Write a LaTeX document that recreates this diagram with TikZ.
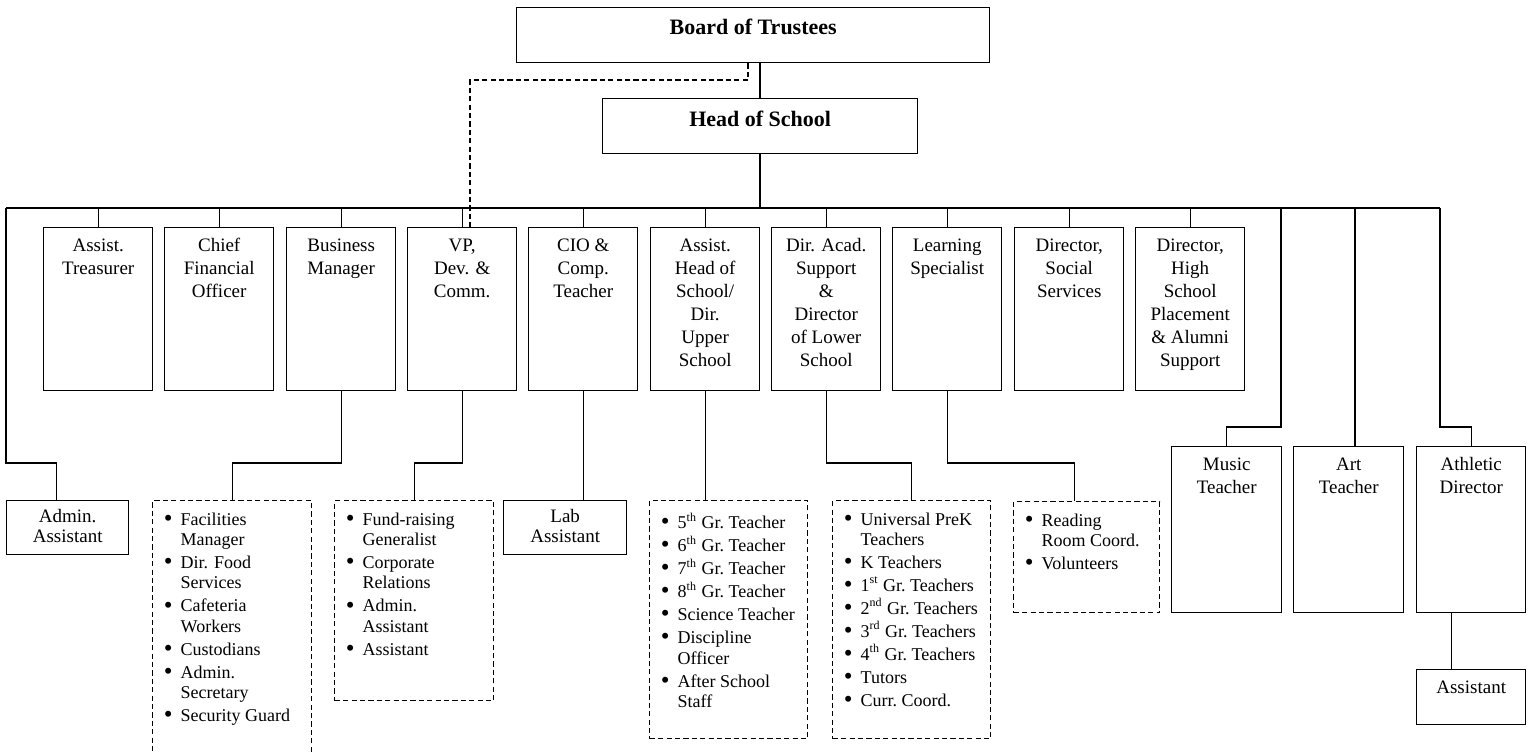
\documentclass[tikz,border=0pt]{standalone}
\usepackage{fontspec}
\setmainfont{Liberation Serif}
\usepackage{enumitem}
\setlist[itemize]{label=\raisebox{-0.6pt}{\fontsize{12.5}{12.5}\selectfont\textbullet}, leftmargin=14pt, labelsep=4pt, topsep=0pt, partopsep=0pt, itemsep=1.3pt, parsep=0pt}

\newcommand{\unitfont}{\fontsize{9.5}{11.5}\selectfont}
\newcommand{\smallunitfont}{\fontsize{9.5}{10}\selectfont}
\newcommand{\listfont}{\fontsize{9}{10.2}\selectfont}
% box text, set from the top: [gap]{width}{height}{text}
\newcommand{\lbl}[4][4pt]{\parbox[t][#3][t]{#2}{\centering\vspace*{#1}\strut#4}}
% bullet list, set from the top: {width}{height}{items}
\newcommand{\lst}[3]{\parbox[t][#2][t]{#1}{\vspace*{6pt}\begin{itemize}#3\end{itemize}}}

\tikzset{
    unit/.style={draw, line width=0.7pt, inner sep=0pt, anchor=north west, font=\unitfont},
    staff/.style={unit, dash pattern=on 2.6pt off 1.6pt, font=\listfont},
    link/.style={line width=0.7pt},
    dlink/.style={link, dash pattern=on 2.6pt off 1.6pt}
}

\begin{document}
\begin{tikzpicture}[x=0.5pt, y=-0.5pt]
    % --- SETTINGS (pixels of the sheet) ---
    \def\Bus{208}  % main horizontal line
    \def\Ely{463}  % elbows under the top row
    \def\Ery{427}  % elbows on the right side
    \def\W{54.5pt} % width of a unit box
    \def\H{81.5pt} % height of a unit box

    \useasboundingbox (0,0) rectangle (1529,753);
    \clip (0,0) rectangle (1529,753);

    % --- TOP ---
    \node[unit] (bot) at (516,7) {\lbl[5.5pt]{236.5pt}{27.5pt}{\bfseries\fontsize{11}{13}\selectfont Board of Trustees}};
    \node[unit] (hos) at (602,98) {\lbl[6pt]{157.5pt}{27.5pt}{\bfseries\fontsize{11}{13}\selectfont Head of School}};

    % --- TOP ROW ---
    \node[unit] (atr) at (43,227)   {\lbl{\W}{\H}{Assist.\\Treasurer}};
    \node[unit] (cfo) at (164,227)  {\lbl{\W}{\H}{Chief\\Financial\\Officer}};
    \node[unit] (bm)  at (286,227)  {\lbl{\W}{\H}{Business\\Manager}};
    \node[unit] (vp)  at (407,227)  {\lbl{\W}{\H}{VP,\\Dev. \&\\Comm.}};
    \node[unit] (cio) at (528,227)  {\lbl{\W}{\H}{CIO \&\\Comp.\\Teacher}};
    \node[unit] (ahs) at (650,227)  {\lbl{\W}{\H}{Assist.\\Head of\\School/\\Dir.\\Upper\\School}};
    \node[unit] (daa) at (771,227)  {\lbl{\W}{\H}{Dir. Acad.\\Support\\\&\\Director\\of Lower\\School}};
    \node[unit] (ls)  at (892,227)  {\lbl{\W}{\H}{Learning\\Specialist}};
    \node[unit] (dss) at (1014,227) {\lbl{\W}{\H}{Director,\\Social\\Services}};
    \node[unit] (dhs) at (1135,227) {\lbl{\W}{\H}{Director,\\High\\School\\Placement\\\& Alumni\\Support}};

    % right side row
    \node[unit] (mus) at (1171,446) {\lbl{55pt}{83pt}{Music\\Teacher}};
    \node[unit] (art) at (1293,446) {\lbl{55pt}{83pt}{Art\\Teacher}};
    \node[unit] (ath) at (1416,446) {\lbl{54.5pt}{83pt}{Athletic\\Director}};
    \node[unit] (aas) at (1416,669) {\lbl{54.5pt}{27.5pt}{Assistant}};

    % --- BOTTOM ROW ---
    \node[unit, font=\smallunitfont] (adm) at (6,500)   {\lbl{61pt}{27pt}{Admin.\\Assistant}};
    \node[unit, font=\smallunitfont] (lab) at (503,500) {\lbl{61.5pt}{27pt}{Lab\\Assistant}};

    \node[staff] (fac) at (152,500) {\lst{79.5pt}{130pt}{
        \item Facilities\\Manager
        \item Dir. Food\\Services
        \item Cafeteria\\Workers
        \item Custodians
        \item Admin.\\Secretary
        \item Security Guard}};
    \node[staff] (vpl) at (334,500) {\lst{79.5pt}{100pt}{
        \item Fund-raising\\Generalist
        \item Corporate\\Relations
        \item Admin.\\Assistant
        \item Assistant}};
    \node[staff] (ahl) at (649,500) {\lst{79pt}{119pt}{
        \item 5\textsuperscript{th} Gr.\ Teacher
        \item 6\textsuperscript{th} Gr.\ Teacher
        \item 7\textsuperscript{th} Gr.\ Teacher
        \item 8\textsuperscript{th} Gr.\ Teacher
        \item Science Teacher
        \item Discipline\\Officer
        \item After School\\Staff}};
    \node[staff] (dal) at (832,500) {\lst{79pt}{119pt}{
        \item Universal PreK\\Teachers
        \item K Teachers
        \item 1\textsuperscript{st} Gr.\ Teachers
        \item 2\textsuperscript{nd} Gr.\ Teachers
        \item 3\textsuperscript{rd} Gr.\ Teachers
        \item 4\textsuperscript{th} Gr.\ Teachers
        \item Tutors
        \item Curr.\ Coord.}};
    \node[staff] (lsl) at (1013,501) {\lst{73pt}{55.5pt}{
        \item Reading\\Room Coord.
        \item Volunteers}};

    % --- CONNECTIONS ---
    \coordinate (busL)  at (6,\Bus);
    \coordinate (busR)  at (1440,\Bus);
    \coordinate (trunk) at (760,\Bus);
    \coordinate (mdrop) at (1281,\Bus);
    \coordinate (adrop) at (1355,\Bus);
    \coordinate (dv)    at (470,80);

    \draw[link] (bot.south -| trunk) -- (hos.north -| trunk);
    \draw[link] (hos.south -| trunk) -- (trunk);
    \draw[link] (busL) -- (busR);

    % dashed line: Board -> VP
    \draw[dlink] (bot.south -| 748,0) |- (dv) -- (vp.north -| dv);

    % drops to the top row
    \draw[link] (atr.north) -- (atr.north |- trunk);
    \draw[link] (cfo.north) -- (cfo.north |- trunk);
    \draw[link] (bm.north)  -- (bm.north |- trunk);
    \draw[link] (vp.north)  -- (vp.north |- trunk);
    \draw[link] (cio.north) -- (cio.north |- trunk);
    \draw[link] (ahs.north) -- (ahs.north |- trunk);
    \draw[link] (daa.north) -- (daa.north |- trunk);
    \draw[link] (ls.north)  -- (ls.north |- trunk);
    \draw[link] (dss.north) -- (dss.north |- trunk);
    \draw[link] (dhs.north) -- (dhs.north |- trunk);

    % down to the bottom row
    \draw[link] (busL) -- (busL |- 0,\Ely) -| ([xshift=-5.5pt]adm.north);
    \draw[link] (bm.south) -- (bm.south |- 0,\Ely) -| (fac.north);
    \draw[link] (vp.south) -- (vp.south |- 0,\Ely) -| (vpl.north);
    \draw[link] (cio.south) -- (cio.south |- lab.north);
    \draw[link] (ahs.south) -- (ahs.south |- ahl.north);
    \draw[link] (daa.south) -- (daa.south |- 0,\Ely) -| (dal.north);
    \draw[link] (ls.south) -- (ls.south |- 0,\Ely) -| ([xshift=-6pt]lsl.north);

    % right side
    \draw[link] (mdrop) -- (mdrop |- 0,\Ery) -| (mus.north);
    \draw[link] (adrop) -- (adrop |- art.north);
    \draw[link] (busR) -- (busR |- 0,\Ery) -| (ath.north);
    \draw[link] ([xshift=-9.75pt]ath.south) -- ([xshift=-9.75pt]aas.north);

\end{tikzpicture}
\end{document}
